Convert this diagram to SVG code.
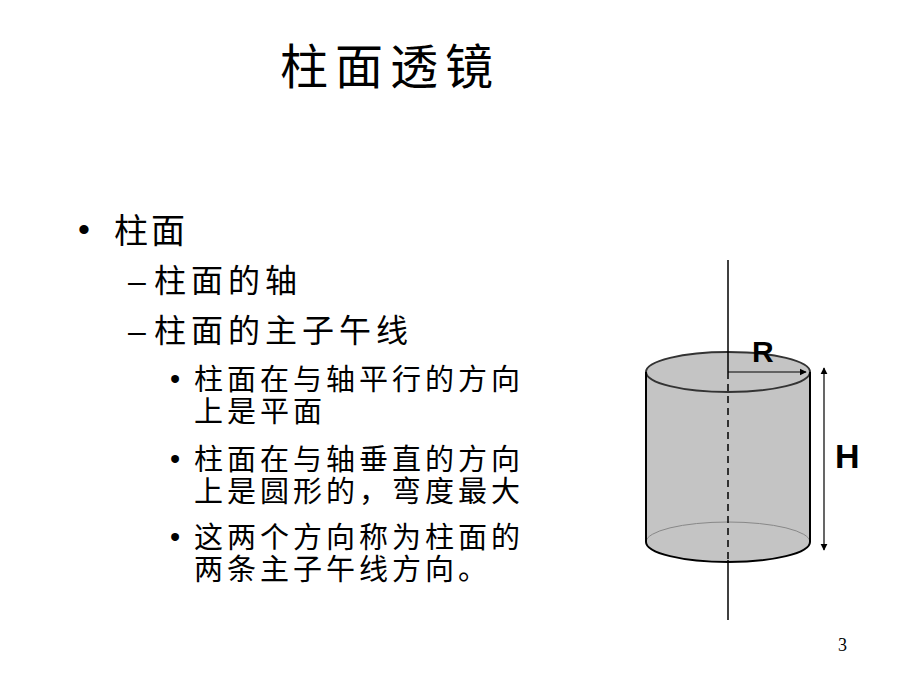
<svg xmlns="http://www.w3.org/2000/svg" width="920" height="690" viewBox="0 0 920 690">
<style>
.t{font-family:"Liberation Sans","Noto Sans CJK SC",sans-serif;fill:#000}
.s{stroke:#000;stroke-width:2;fill:none}
</style>
<defs><marker id="a" viewBox="0 0 10 10" refX="9" refY="5" markerWidth="6" markerHeight="6" orient="auto-start-reverse"><path d="M0,0L10,5L0,10z"/></marker></defs>
<rect width="920" height="690" fill="#fff"/>
<text class="t" x="280" y="84" font-size="48" letter-spacing="7">柱面透镜</text>
<g id="text">
<text class="t" x="78" y="241" font-size="34">•</text>
<text class="t" x="114" y="243" font-size="34" letter-spacing="3">柱面</text>
<text class="t" x="128" y="292" font-size="32">–</text>
<text class="t" x="154" y="292" font-size="32" letter-spacing="5">柱面的轴</text>
<text class="t" x="128" y="342" font-size="32">–</text>
<text class="t" x="154" y="342" font-size="32" letter-spacing="5">柱面的主子午线</text>
<g font-size="29" letter-spacing="4">
<text class="t" x="170" y="389">•</text><text class="t" x="194" y="390">柱面在与轴平行的方向</text>
<text class="t" x="194" y="422">上是平面</text>
<text class="t" x="170" y="469">•</text><text class="t" x="194" y="470">柱面在与轴垂直的方向</text>
<text class="t" x="194" y="502">上是圆形的，弯度最大</text>
<text class="t" x="170" y="547">•</text><text class="t" x="194" y="548">这两个方向称为柱面的</text>
<text class="t" x="194" y="580">两条主子午线方向。</text>
</g>
</g>
<g id="cylinder">
<path d="M646,372 V542 A82,20 0 0 0 810,542 V372 Z" fill="#c4c4c4"/>
<ellipse cx="728" cy="372" rx="82" ry="20" fill="#c4c4c4" stroke="#333" stroke-width="2"/>
<path d="M646,542 A82,20 0 0 1 810,542" stroke="#888" stroke-width="1" fill="none"/>
<path d="M646,372 V542 A82,20 0 0 0 810,542 V372" class="s" stroke-width="1.8"/>
</g>
<g id="connectors">
<line x1="728" y1="260" x2="728" y2="372" stroke="#000" stroke-width="1.5"/>
<line x1="728" y1="372" x2="728" y2="560" stroke="#000" stroke-width="1.5" stroke-dasharray="7,5"/>
<line x1="728" y1="560" x2="728" y2="620" stroke="#000" stroke-width="1.5"/>
<line x1="728" y1="372" x2="806" y2="372" stroke="#000" stroke-width="1.2" marker-end="url(#a)"/>
<line x1="824" y1="368" x2="824" y2="550" stroke="#000" stroke-width="1.2" marker-start="url(#a)" marker-end="url(#a)"/>
</g>
<text class="t" x="752" y="362" font-size="30" font-weight="bold">R</text>
<text class="t" x="835" y="468" font-size="34" font-weight="bold">H</text>
<text x="838" y="651" font-size="18" font-family="Liberation Serif,serif">3</text>
</svg>
